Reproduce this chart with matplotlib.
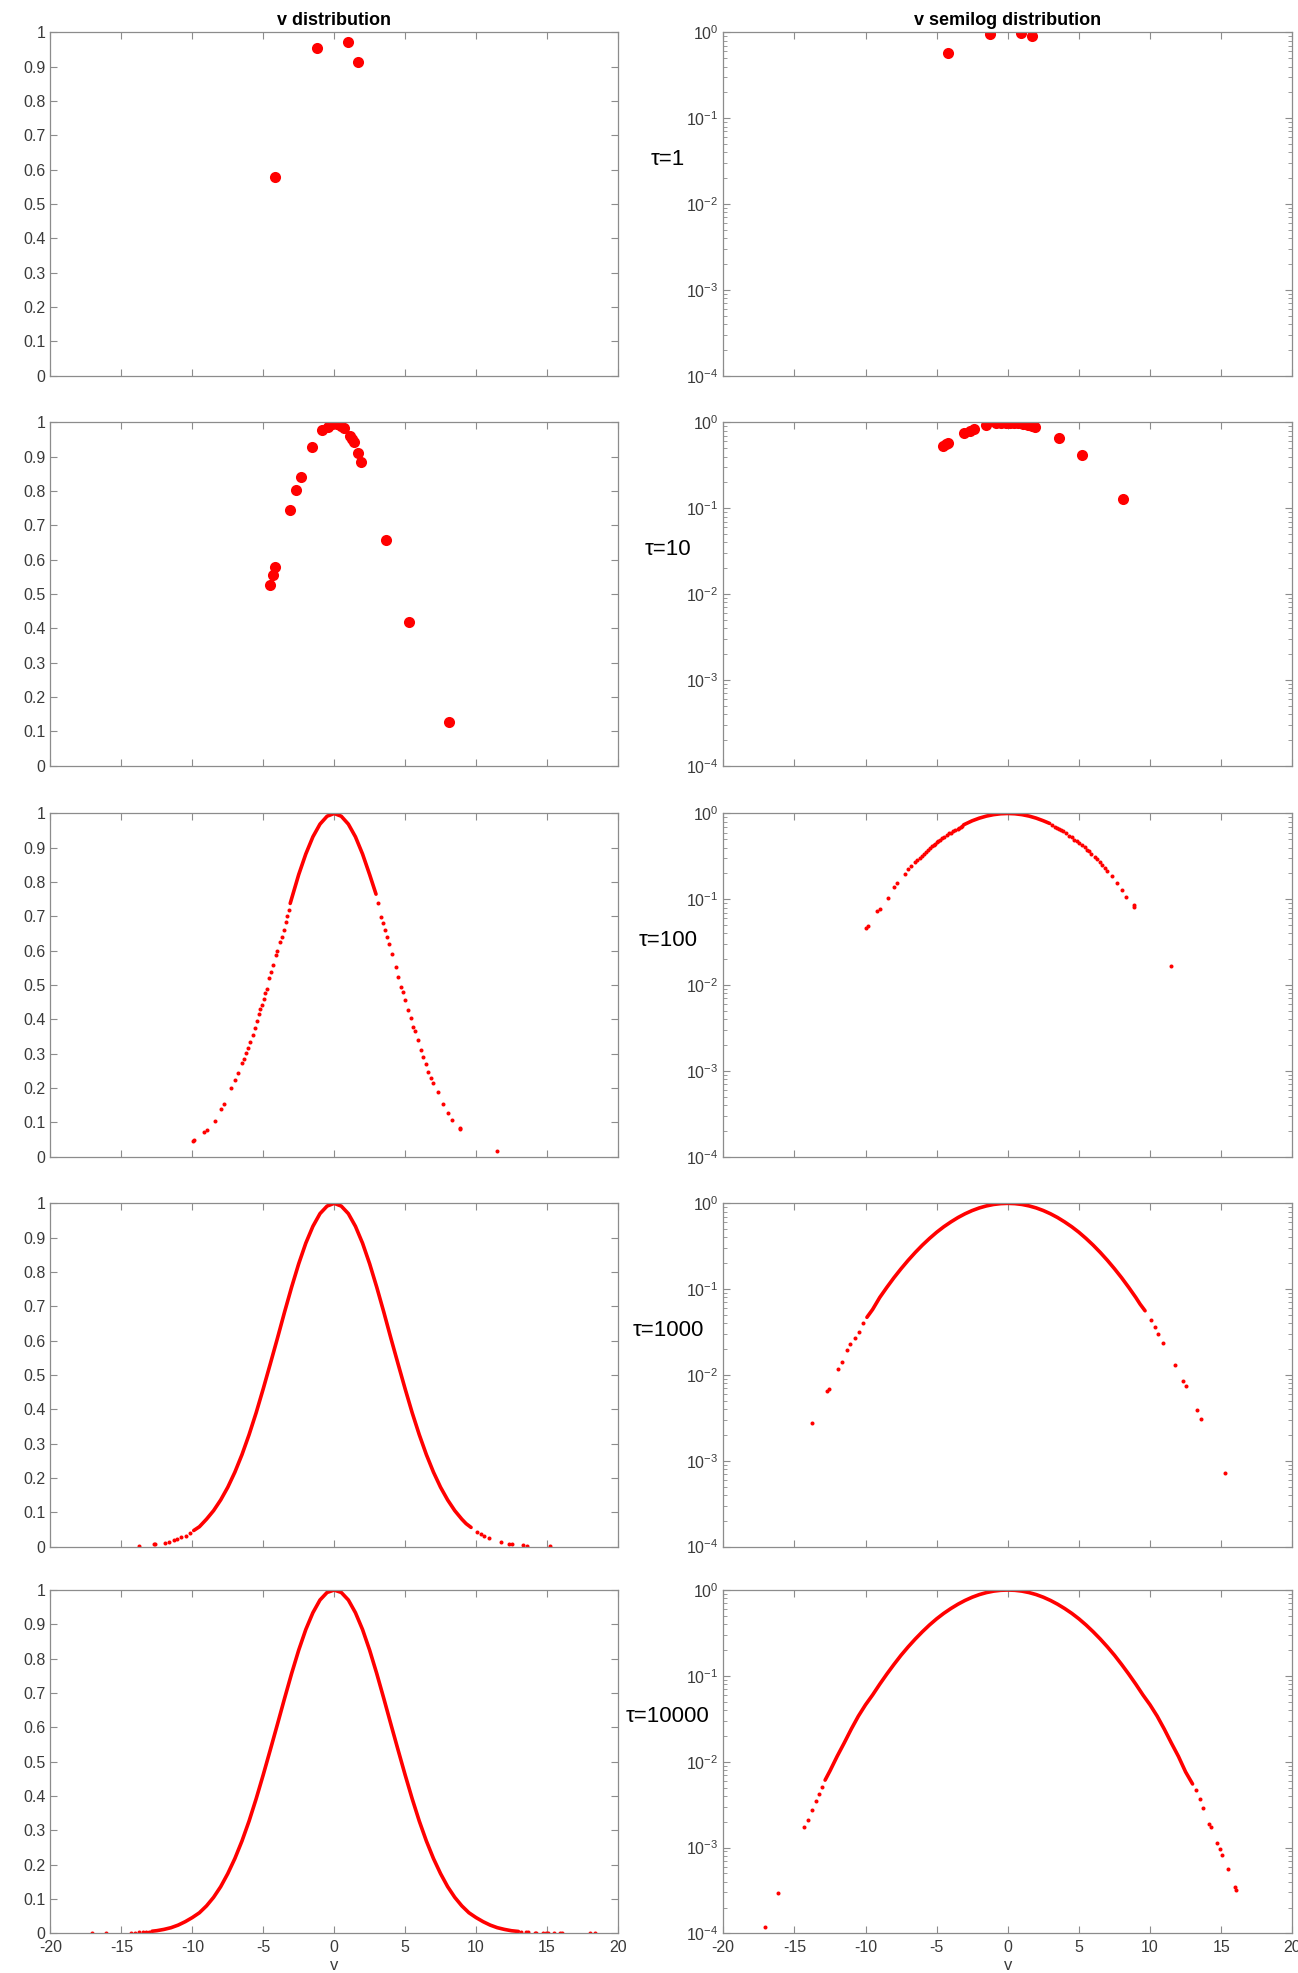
import numpy as np
import matplotlib.pyplot as plt

plt.rcParams['font.family'] = ['Liberation Sans', 'DejaVu Sans']
plt.rcParams['axes.unicode_minus'] = False
plt.rcParams['mathtext.fontset'] = 'custom'
plt.rcParams['mathtext.rm'] = 'Liberation Sans'
plt.rcParams['mathtext.it'] = 'Liberation Sans:italic'
plt.rcParams['mathtext.bf'] = 'Liberation Sans:bold'

# tau = 1 : only a handful of samples
tau1_v = [-4.18, -1.22, 0.95, 1.69]
tau1_p = [0.580, 0.953, 0.971, 0.915]

# tau = 10
tau10_v = [-4.54, -4.33, -4.18, -3.09, -2.67, -2.34, -1.54, -0.83, -0.47, -0.12, 0.18,
           0.47, 0.71, 1.10, 1.25, 1.39, 1.69, 1.90, 3.62, 5.25, 8.07]
tau10_p = [0.526, 0.555, 0.579, 0.746, 0.802, 0.841, 0.928, 0.977, 0.988, 0.995, 0.996,
           0.990, 0.984, 0.961, 0.951, 0.942, 0.911, 0.886, 0.658, 0.419, 0.128]

# tau = 100 : dense core + scattered tail samples
tau100_core_v = [-3.1, -2.5, -2.0, -1.5, -1.0, -0.5, 0.0, 0.5, 1.0, 1.5, 2.0, 2.5, 2.95]
tau100_core_p = [0.738, 0.822, 0.882, 0.932, 0.969, 0.992, 1.0, 0.992, 0.969, 0.932, 0.882, 0.822, 0.765]
tau100_tail_v = [-9.97, -9.85, -9.17, -9.0, -8.43, -7.98, -7.77, -7.24, -7.0, -6.8, -6.5, -6.35,
                 -6.2, -6.05, -5.9, -5.75, -5.6, -5.45, -5.3, -5.2, -5.1, -4.98, -4.87, -4.75,
                 -4.6, -4.48, -4.3, -4.12, -4.0, -3.83, -3.7, -3.53, -3.4, -3.3, -3.2,
                 3.1, 3.29, 3.45, 3.59, 3.75, 3.89, 4.1, 4.33, 4.5, 4.69, 4.85, 4.99, 5.22, 5.4,
                 5.58, 5.7, 5.88, 6.1, 6.26, 6.45, 6.65, 6.85, 7.0, 7.3, 7.66, 8.04, 8.34,
                 8.84, 8.9, 11.45]
tau100_tail_p = [0.046, 0.049, 0.073, 0.078, 0.104, 0.138, 0.155, 0.199, 0.225, 0.245, 0.272, 0.285,
                 0.301, 0.318, 0.335, 0.355, 0.374, 0.395, 0.416, 0.430, 0.442, 0.460, 0.476, 0.490,
                 0.520, 0.539, 0.560, 0.587, 0.600, 0.626, 0.640, 0.662, 0.685, 0.700, 0.720,
                 0.740, 0.699, 0.680, 0.660, 0.640, 0.620, 0.590, 0.553, 0.525, 0.495, 0.480, 0.456,
                 0.427, 0.405, 0.379, 0.365, 0.340, 0.310, 0.291, 0.270, 0.248, 0.230, 0.214,
                 0.189, 0.155, 0.128, 0.107, 0.085, 0.082, 0.0165]

# tau = 1000
tau1000_core_v = [-9.9, -9.5, -9.0, -8.5, -8.0, -7.5, -7.0, -6.5, -6.0, -5.5, -5.0, -4.5, -4.0,
                  -3.5, -3.0, -2.5, -2.0, -1.5, -1.0, -0.5, 0.0, 0.5, 1.0, 1.5, 2.0, 2.5, 3.0,
                  3.5, 4.0, 4.5, 5.0, 5.5, 6.0, 6.5, 7.0, 7.5, 8.0, 8.5, 9.0, 9.3, 9.65]
tau1000_core_p = [0.047, 0.058, 0.080, 0.105, 0.136, 0.173, 0.217, 0.268, 0.326, 0.390, 0.460, 0.533,
                  0.607, 0.683, 0.756, 0.824, 0.884, 0.933, 0.970, 0.992, 1.0, 0.992, 0.970, 0.933,
                  0.884, 0.824, 0.756, 0.683, 0.607, 0.533, 0.460, 0.390, 0.326, 0.268, 0.217,
                  0.173, 0.136, 0.105, 0.080, 0.067, 0.056]
tau1000_tail_v = [-10.18, -10.47, -10.77, -11.07, -11.27, -11.66, -11.95, -12.6, -12.69, -13.76,
                  10.09, 10.38, 10.59, 10.92, 11.75, 12.31, 12.51, 13.31, 13.58, 15.24]
tau1000_tail_p = [0.040, 0.0316, 0.0272, 0.0231, 0.0194, 0.0142, 0.0116, 0.00693, 0.00652, 0.00277,
                  0.0432, 0.0362, 0.0297, 0.0238, 0.0132, 0.0085, 0.00745, 0.00388, 0.00308, 0.000713]

# tau = 10000
tau10000_core_v = [-12.84, -12.5, -12.0, -11.5, -11.0, -10.5, -10.0, -9.5, -9.0, -8.5, -8.0, -7.5,
                   -7.0, -6.5, -6.0, -5.5, -5.0, -4.5, -4.0, -3.5, -3.0, -2.5, -2.0, -1.5, -1.0,
                   -0.5, 0.0, 0.5, 1.0, 1.5, 2.0, 2.5, 3.0, 3.5, 4.0, 4.5, 5.0, 5.5, 6.0, 6.5,
                   7.0, 7.5, 8.0, 8.5, 9.0, 9.5, 10.0, 10.5, 11.0, 11.5, 12.0, 12.5, 12.99]
tau10000_core_p = [0.0061, 0.0078, 0.0115, 0.0165, 0.024, 0.034, 0.046, 0.060, 0.080, 0.105, 0.136,
                   0.174, 0.218, 0.269, 0.327, 0.392, 0.462, 0.535, 0.609, 0.684, 0.757, 0.825,
                   0.885, 0.934, 0.971, 0.993, 1.0, 0.993, 0.971, 0.934, 0.885, 0.825, 0.757,
                   0.684, 0.609, 0.535, 0.462, 0.392, 0.327, 0.269, 0.218, 0.174, 0.136, 0.105,
                   0.080, 0.060, 0.046, 0.034, 0.024, 0.0165, 0.0115, 0.0076, 0.0055]
tau10000_tail_v = [-13.08, -13.28, -13.49, -13.73, -14.02, -14.29, -16.12, -17.04,
                   13.2, 13.49, 13.7, 14.14, 14.26, 14.73, 14.91, 15.09, 15.5, 15.95, 16.04, 18.07, 18.37]
tau10000_tail_p = [0.00507, 0.00424, 0.00349, 0.00277, 0.00212, 0.00174, 0.000292, 0.00012,
                   0.00465, 0.00363, 0.00288, 0.00186, 0.00174, 0.00113, 0.00097, 0.00081, 0.000555,
                   0.000349, 0.000317, 0.00006, 0.00005]

tau_labels = ['τ=1', 'τ=10', 'τ=100', 'τ=1000', 'τ=10000']

rows = [
    (None, None, tau1_v, tau1_p, 'big'),
    (None, None, tau10_v, tau10_p, 'big'),
    (tau100_core_v, tau100_core_p, tau100_tail_v, tau100_tail_p, 'small'),
    (tau1000_core_v, tau1000_core_p, tau1000_tail_v, tau1000_tail_p, 'small'),
    (tau10000_core_v, tau10000_core_p, tau10000_tail_v, tau10000_tail_p, 'small'),
]

axis_grey = '#8c8c8c'
label_grey = '#3a3a3a'
red = '#ff0000'

fig = plt.figure(figsize=(12.98, 19.73), dpi=100)
row_bottoms = [0.8096, 0.6119, 0.4137, 0.2161, 0.0201]
row_h = 0.174


def style_axes(ax, bottom_row):
    ax.set_xlim(-20, 20)
    ax.set_xticks(np.arange(-20, 21, 5))
    ax.tick_params(which='both', direction='in', top=True, right=True,
                   color=axis_grey, labelcolor=label_grey, labelsize=11.5)
    ax.tick_params(which='major', length=5, width=0.8)
    ax.tick_params(which='minor', length=3, width=0.6)
    ax.tick_params(axis='x', pad=5)
    for s in ax.spines.values():
        s.set_color(axis_grey)
        s.set_linewidth(0.9)
    if bottom_row:
        ax.set_xlabel('v', color=label_grey, fontsize=12, labelpad=2)
    else:
        ax.tick_params(labelbottom=False)


def draw(ax, core_v, core_p, tail_v, tail_p, kind):
    if kind == 'big':
        ax.plot(tail_v, tail_p, 'o', color=red, markersize=8, markeredgewidth=0)
    else:
        ax.plot(core_v, core_p, '-', color=red, linewidth=2.6, solid_capstyle='round')
        ax.plot(tail_v, tail_p, 'o', color=red, markersize=2.9, markeredgewidth=0)


for i, (cv, cp, tv, tp, kind) in enumerate(rows):
    last = i == len(rows) - 1
    b = row_bottoms[i]

    axl = fig.add_axes([0.0389, b, 0.4371, row_h])
    draw(axl, cv, cp, tv, tp, kind)
    axl.set_ylim(0, 1)
    axl.set_yticks(np.arange(0, 1.01, 0.1))
    axl.set_yticklabels(['0'] + ['%.1f' % t for t in np.arange(0.1, 0.95, 0.1)] + ['1'])
    style_axes(axl, last)

    axr = fig.add_axes([0.5572, b, 0.4384, row_h])
    draw(axr, cv, cp, tv, tp, kind)
    axr.set_yscale('log')
    axr.set_ylim(1e-4, 1)
    style_axes(axr, last)

    fig.text(0.5146, b + 0.631 * row_h, tau_labels[i], ha='center', va='center',
             fontsize=16, color='black')

    if i == 0:
        axl.set_title('v distribution', fontweight='bold', fontsize=13, pad=5)
        axr.set_title('v semilog distribution', fontweight='bold', fontsize=13, pad=5)

fig.savefig('out.png', dpi=100, facecolor='white')
